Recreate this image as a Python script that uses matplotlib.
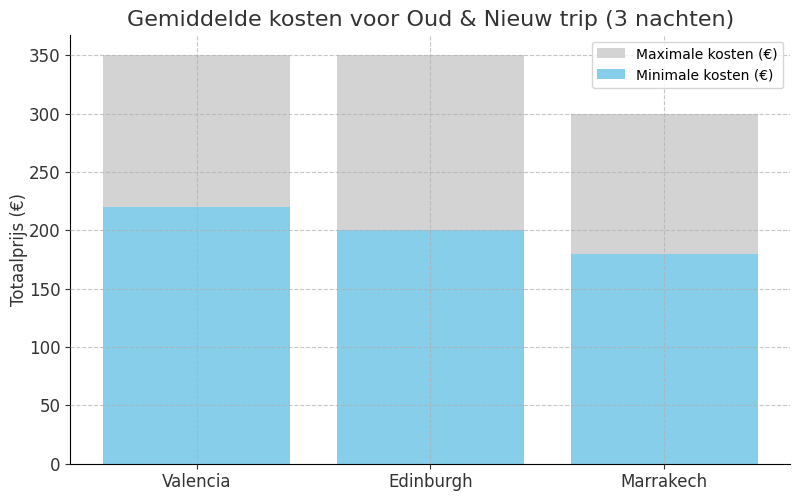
import matplotlib.pyplot as plt

steden = ["Valencia", "Edinburgh", "Marrakech"]
max_kosten = [350, 350, 300]
min_kosten = [220, 200, 180]

fig, ax = plt.subplots(figsize=(8, 4.96), dpi=100)
ax.bar(steden, max_kosten, color="lightgray", label="Maximale kosten (€)")
ax.bar(steden, min_kosten, color="skyblue", label="Minimale kosten (€)")

ax.set_title("Gemiddelde kosten voor Oud & Nieuw trip (3 nachten)", fontsize=16, color="#333333")
ax.set_ylabel("Totaalprijs (€)", fontsize=12, color="#333333", labelpad=1)
ax.tick_params(labelsize=12, colors="#333333")
ax.set_yticks(range(0, 351, 50))
ax.grid(True, linestyle="--", alpha=0.7)
ax.set_axisbelow(False)
ax.spines["top"].set_visible(False)
ax.spines["right"].set_visible(False)
ax.legend(fontsize=10)

plt.subplots_adjust(left=0.088, right=0.988, top=0.93, bottom=0.065)
plt.savefig("out.png")
